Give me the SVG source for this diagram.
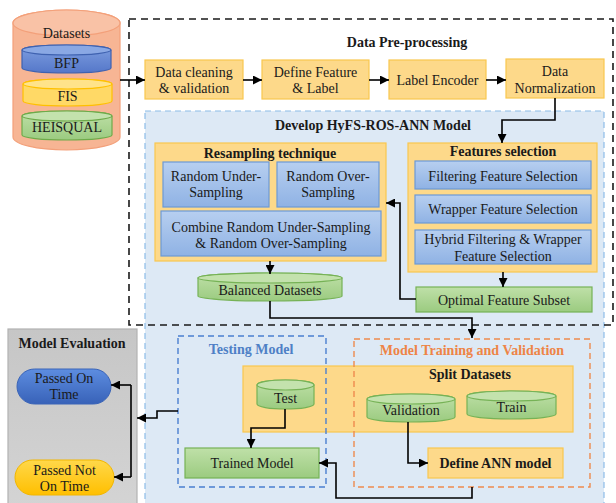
<svg xmlns="http://www.w3.org/2000/svg" width="616" height="503" viewBox="0 0 616 503" font-family="'Liberation Serif', 'DejaVu Serif', serif">
  <defs>
    <linearGradient id="gBlue" x1="0" y1="0" x2="0" y2="1">
      <stop offset="0" stop-color="#b7cff0"/>
      <stop offset="1" stop-color="#8fb2e4"/>
    </linearGradient>
    <linearGradient id="gGreen" x1="0" y1="0" x2="0" y2="1">
      <stop offset="0" stop-color="#bfe0a8"/>
      <stop offset="1" stop-color="#9bcb80"/>
    </linearGradient>
    <linearGradient id="gGray" x1="0" y1="0" x2="0" y2="1">
      <stop offset="0" stop-color="#c6c6c6"/>
      <stop offset="1" stop-color="#d4d4d4"/>
    </linearGradient>
    <linearGradient id="gPillBlue" x1="0" y1="0" x2="0" y2="1">
      <stop offset="0" stop-color="#5d8de0"/>
      <stop offset="1" stop-color="#3862b8"/>
    </linearGradient>
    <linearGradient id="gPillYellow" x1="0" y1="0" x2="0" y2="1">
      <stop offset="0" stop-color="#ffd84a"/>
      <stop offset="1" stop-color="#ffbf00"/>
    </linearGradient>
    <linearGradient id="gDbBlue" x1="0" y1="0" x2="0" y2="1">
      <stop offset="0" stop-color="#7f9fe0"/>
      <stop offset="1" stop-color="#5577c9"/>
    </linearGradient>
    <marker id="arrow" viewBox="0 0 10 10" refX="10" refY="5" markerWidth="9" markerHeight="9" markerUnits="userSpaceOnUse" orient="auto">
      <path d="M0,0 L10,5 L0,10 Z" fill="#000"/>
    </marker>
    <style>
      text { font-family: 'Liberation Serif', 'DejaVu Serif', serif; font-size: 14px; fill: #1a1a1a; text-anchor: middle; dominant-baseline: central; }
      .b { font-weight: bold; }
      .step { fill: #fdd98a; stroke: #f9c74f; stroke-width: 1.2; }
      .blue { fill: url(#gBlue); stroke: #6d99d6; stroke-width: 1.2; }
      .green { fill: url(#gGreen); stroke: #76b256; stroke-width: 1.2; }
      .conn path { fill: none; stroke: #000; stroke-width: 1.6; marker-end: url(#arrow); }
      .conn path.plain { marker-end: none; }
    </style>
  </defs>

  <rect width="616" height="503" fill="#fff"/>

  <!-- HyFS-ROS-ANN model container -->
  <g id="develop-model">
    <rect x="145" y="111" width="459" height="400" fill="#dde9f5" stroke="#8ebde8" stroke-width="1.2" stroke-dasharray="6 4"/>
    <text x="373" y="125" class="b">Develop HyFS-ROS-ANN Model</text>
  </g>

  <!-- Datasets store -->
  <g id="datasets">
    <path d="M13,23 V137 A53.5,13 0 0 0 120,137 V23 A53.5,13 0 0 0 13,23 Z" fill="#f7b594" stroke="#f3a07a" stroke-width="1.2"/>
    <ellipse cx="66.5" cy="23" rx="53.5" ry="13" fill="#f9c2a6" stroke="#f3a07a" stroke-width="1.2"/>
    <text x="66.5" y="33">Datasets</text>
    <g id="bfp">
      <path d="M22,50 V68 A44.5,5 0 0 0 111,68 V50 A44.5,5 0 0 0 22,50 Z" fill="url(#gDbBlue)" stroke="#3f62b0" stroke-width="1.2"/>
      <ellipse cx="66.5" cy="50" rx="44.5" ry="5" fill="#8aa8e4" stroke="#3f62b0" stroke-width="1.2"/>
      <text x="66.5" y="63">BFP</text>
    </g>
    <g id="fis">
      <path d="M23,84 V101 A44.5,5 0 0 0 112,101 V84 A44.5,5 0 0 0 23,84 Z" fill="#ffd966" stroke="#ffc000" stroke-width="1.2"/>
      <ellipse cx="67.5" cy="84" rx="44.5" ry="5" fill="#ffe38a" stroke="#ffc000" stroke-width="1.2"/>
      <text x="67.5" y="96">FIS</text>
    </g>
    <g id="heisqual">
      <path d="M22,116 V135 A45,5 0 0 0 112,135 V116 A45,5 0 0 0 22,116 Z" fill="url(#gGreen)" stroke="#6eaa4a" stroke-width="1.2"/>
      <ellipse cx="67" cy="116" rx="45" ry="5" fill="#c3e2ad" stroke="#6eaa4a" stroke-width="1.2"/>
      <text x="67" y="127">HEISQUAL</text>
    </g>
  </g>

  <!-- Pre-processing steps -->
  <g id="data-preprocessing">
    <text x="407" y="42" class="b">Data Pre-processing</text>
  </g>
  <g id="data-cleaning">
    <rect class="step" x="145" y="60" width="98" height="39"/>
    <text x="194" y="72">Data cleaning</text>
    <text x="194" y="88">&amp; validation</text>
  </g>
  <g id="define-feature">
    <rect class="step" x="262" y="60" width="107" height="39"/>
    <text x="315.5" y="72">Define Feature</text>
    <text x="315.5" y="88">&amp; Label</text>
  </g>
  <g id="label-encoder">
    <rect class="step" x="389" y="60" width="97" height="39"/>
    <text x="437.5" y="80">Label Encoder</text>
  </g>
  <g id="data-normalization">
    <rect class="step" x="506" y="59" width="98" height="39"/>
    <text x="555" y="71">Data</text>
    <text x="555" y="88">Normalization</text>
  </g>

  <!-- Resampling technique -->
  <g id="resampling">
    <rect class="step" x="155" y="143" width="231" height="118"/>
    <text x="270" y="153" class="b">Resampling technique</text>
  </g>
  <g id="random-under">
    <rect class="blue" x="163" y="162" width="106" height="45"/>
    <text x="216" y="176">Random Under-</text>
    <text x="216" y="192">Sampling</text>
  </g>
  <g id="random-over">
    <rect class="blue" x="277" y="162" width="102" height="45"/>
    <text x="328" y="176">Random Over-</text>
    <text x="328" y="192">Sampling</text>
  </g>
  <g id="combine">
    <rect class="blue" x="161" y="211" width="220" height="45"/>
    <text x="271" y="227">Combine Random Under-Sampling</text>
    <text x="271" y="243">&amp; Random Over-Sampling</text>
  </g>
  <g id="balanced-datasets">
    <path d="M198,278 V296 A72,5 0 0 0 342,296 V278 A72,5 0 0 0 198,278 Z" fill="url(#gGreen)" stroke="#76b256" stroke-width="1.2"/>
    <ellipse cx="270" cy="278" rx="72" ry="5" fill="#c3e2ad" stroke="#76b256" stroke-width="1.2"/>
    <text x="270" y="290">Balanced Datasets</text>
  </g>

  <!-- Features selection -->
  <g id="features-selection">
    <rect class="step" x="408" y="143" width="189" height="129"/>
    <text x="503" y="151" class="b">Features selection</text>
  </g>
  <g id="filtering">
    <rect class="blue" x="415" y="161" width="176" height="28"/>
    <text x="503" y="176">Filtering Feature Selection</text>
  </g>
  <g id="wrapper">
    <rect class="blue" x="415" y="195" width="176" height="28"/>
    <text x="503" y="209">Wrapper Feature Selection</text>
  </g>
  <g id="hybrid">
    <rect class="blue" x="415" y="230" width="176" height="34"/>
    <text x="503" y="239">Hybrid Filtering &amp; Wrapper</text>
    <text x="503" y="256">Feature Selection</text>
  </g>
  <g id="optimal-subset">
    <rect class="green" x="416" y="287" width="176" height="25"/>
    <text x="504" y="300">Optimal Feature Subset</text>
  </g>

  <!-- Split datasets -->
  <g id="split-datasets">
    <rect class="step" x="243" y="366" width="330" height="66"/>
    <text x="470" y="374" class="b">Split Datasets</text>
  </g>
  <g id="test">
    <path d="M257,385 V404 A28.5,5 0 0 0 314,404 V385 A28.5,5 0 0 0 257,385 Z" fill="url(#gGreen)" stroke="#76b256" stroke-width="1.2"/>
    <ellipse cx="285.5" cy="385" rx="28.5" ry="5" fill="#c3e2ad" stroke="#76b256" stroke-width="1.2"/>
    <text x="285.5" y="398">Test</text>
  </g>
  <g id="validation">
    <path d="M367,399 V417 A44,5 0 0 0 455,417 V399 A44,5 0 0 0 367,399 Z" fill="url(#gGreen)" stroke="#76b256" stroke-width="1.2"/>
    <ellipse cx="411" cy="399" rx="44" ry="5" fill="#c3e2ad" stroke="#76b256" stroke-width="1.2"/>
    <text x="411" y="410">Validation</text>
  </g>
  <g id="train">
    <path d="M467,396 V414 A44.5,5 0 0 0 556,414 V396 A44.5,5 0 0 0 467,396 Z" fill="url(#gGreen)" stroke="#76b256" stroke-width="1.2"/>
    <ellipse cx="511.5" cy="396" rx="44.5" ry="5" fill="#c3e2ad" stroke="#76b256" stroke-width="1.2"/>
    <text x="511.5" y="407">Train</text>
  </g>
  <g id="trained-model">
    <rect class="green" x="185" y="448" width="134" height="30"/>
    <text x="252" y="463">Trained Model</text>
  </g>
  <g id="define-ann">
    <rect class="step" x="428" y="448" width="135" height="30"/>
    <text x="495.5" y="463" class="b">Define ANN model</text>
  </g>

  <!-- Testing / training frames -->
  <g id="testing-model">
    <rect x="178" y="336" width="148" height="151" fill="none" stroke="#4a7fd0" stroke-width="1.4" stroke-dasharray="6 4"/>
    <text x="251" y="349" class="b" style="fill:#4e80c6">Testing Model</text>
  </g>
  <g id="training-validation">
    <rect x="354" y="339" width="236" height="148" fill="none" stroke="#ee8a4e" stroke-width="1.4" stroke-dasharray="6 4"/>
    <text x="472" y="350" class="b" style="fill:#ee8446">Model Training and Validation</text>
  </g>

  <!-- Model evaluation -->
  <g id="model-evaluation">
    <rect x="8" y="329" width="129" height="180" fill="url(#gGray)" stroke="#b2b2b2" stroke-width="1.2"/>
    <text x="72" y="343" class="b">Model Evaluation</text>
  </g>
  <g id="passed-on-time">
    <rect x="17" y="369" width="94" height="35" rx="17.5" fill="url(#gPillBlue)" stroke="#3a64b8" stroke-width="1"/>
    <text x="64" y="378">Passed On</text>
    <text x="64" y="394">Time</text>
  </g>
  <g id="passed-not-on-time">
    <rect x="15" y="460" width="99" height="35" rx="17.5" fill="url(#gPillYellow)" stroke="#f2b600" stroke-width="1"/>
    <text x="64.5" y="470">Passed Not</text>
    <text x="64.5" y="486">On Time</text>
  </g>

  <!-- Pre-processing frame -->
  <g id="preprocessing-frame">
    <rect x="129" y="19" width="484" height="306" fill="none" stroke="#1a1a1a" stroke-width="1.6" stroke-dasharray="7 5"/>
  </g>

  <!-- Connectors -->
  <g id="connectors" class="conn">
    <path d="M120,80 H145"/>
    <path d="M243,80 H262"/>
    <path d="M369,80 H389"/>
    <path d="M486,80 H506"/>
    <path d="M555,98 V120 H502 V143"/>
    <path d="M270,261 V274"/>
    <path d="M503,272 V287"/>
    <path d="M416,299 H400 V203 H386"/>
    <path d="M270,301 V318 H472 V338"/>
    <path d="M285,409 V428 H251 V448"/>
    <path d="M408,422 V463 H428"/>
    <path d="M472,487 V498 H336 V463 H319"/>
    <path d="M178,411 H157 V418 H137"/>
    <path class="plain" d="M131,385 V477"/>
    <path d="M131,385 H111"/>
    <path d="M131,477 H114"/>
  </g>
</svg>
